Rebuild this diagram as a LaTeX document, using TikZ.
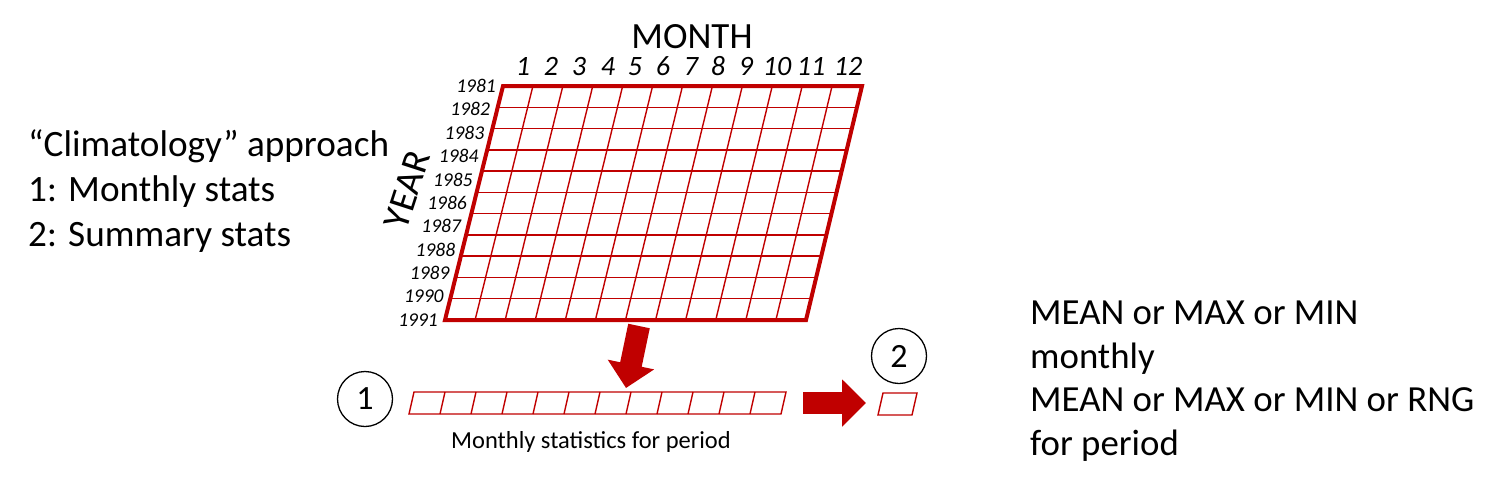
\documentclass[tikz,border=0pt]{standalone}
\usepackage{fontspec}
\setmainfont{Carlito}
\usetikzlibrary{calc,arrows.meta}
\definecolor{darkred}{HTML}{C00000}

\begin{document}
\begin{tikzpicture}[x=1pt,y=-1pt,
  gridline/.style={darkred,line width=1.4pt},
  gridframe/.style={darkred,line width=4pt,line join=miter},
  yearlabel/.style={anchor=east,inner sep=1pt,font=\fontsize{19.5}{19.5}\selectfont\itshape},
  monthlabel/.style={anchor=base,inner sep=0pt,font=\fontsize{28}{28}\selectfont\itshape},
  numcircle/.style={draw,circle,line width=1.3pt,minimum size=55pt,inner sep=0pt,font=\fontsize{34}{34}\selectfont},
  bigarrow/.style={darkred,line width=22pt,-{Triangle[length=24pt,width=46pt]}}]
  \useasboundingbox (0,0) rectangle (1507,493);

  % left caption
  \node[anchor=base west,align=left,inner sep=0pt,font=\fontsize{37.2}{45}\selectfont] (approach) at (28,246)
    {“Climatology” approach\\1: Monthly stats\\2: Summary stats};

  % year x month grid
  \coordinate (g-nw) at (503,86);  \coordinate (g-ne) at (862,86);
  \coordinate (g-se) at (806,320); \coordinate (g-sw) at (445,320);
  \foreach \i in {1,...,11}
    \draw[gridline] ($(g-nw)!\i/12!(g-ne)$) -- ($(g-sw)!\i/12!(g-se)$);
  \foreach \j in {1,...,10}
    \draw[gridline] ($(g-nw)!\j/11!(g-sw)$) -- ($(g-ne)!\j/11!(g-se)$);
  \draw[gridframe] (g-nw) -- (g-ne) -- (g-se) -- (g-sw) -- cycle;

  \node[font=\fontsize{37}{37}\selectfont,anchor=base] (month) at (692,48) {MONTH};
  \foreach \m/\x in {1/523,2/551,3/579,4/608,5/635,6/663,7/691,8/718,9/746,10/777,11/811,12/848}
    \node[monthlabel] (m\m) at (\x,75) {\m};
  \foreach \yr [count=\k from 0] in {1981,...,1991}
    \node[yearlabel] (y\yr) at ($(g-nw)!\k/10!(g-sw)+(-6,0)$) {\yr};
  \node[rotate=72,font=\fontsize{38}{38}\selectfont] (year) at (407,190) {YEAR};

  % step 1: monthly strip
  \node[numcircle] (n1) at (365,399) {1};
  \coordinate (s-nw) at (414,392); \coordinate (s-ne) at (786,392);
  \coordinate (s-se) at (781,414); \coordinate (s-sw) at (409,414);
  \draw[gridline] (s-nw) -- (s-ne) -- (s-se) -- (s-sw) -- cycle;
  \foreach \i in {1,...,11}
    \draw[gridline] ($(s-nw)!\i/12!(s-ne)$) -- ($(s-sw)!\i/12!(s-se)$);
  \node[anchor=base,font=\fontsize{24.5}{24.5}\selectfont] (striplabel) at (591,448) {Monthly statistics for period};

  % step 2: summary cell
  \node[numcircle] (n2) at (899,356) {2};
  \coordinate (c-nw) at (883,393); \coordinate (c-ne) at (917,393);
  \coordinate (c-se) at (912,415); \coordinate (c-sw) at (878,415);
  \draw[gridline] (c-nw) -- (c-ne) -- (c-se) -- (c-sw) -- cycle;

  % arrows
  \coordinate (down-from) at (639,326); \coordinate (down-to) at (626,388);
  \coordinate (right-from) at (803,403); \coordinate (right-to) at (866,403);
  \draw[bigarrow] (down-from) -- (down-to);
  \draw[bigarrow] (right-from) -- (right-to);

  % right caption
  \node[anchor=base west,align=left,inner sep=0pt,font=\fontsize{36.8}{43.5}\selectfont] (stats) at (1030,455)
    {MEAN or MAX or MIN\\monthly\\MEAN or MAX or MIN or RNG\\for period};
\end{tikzpicture}
\end{document}
